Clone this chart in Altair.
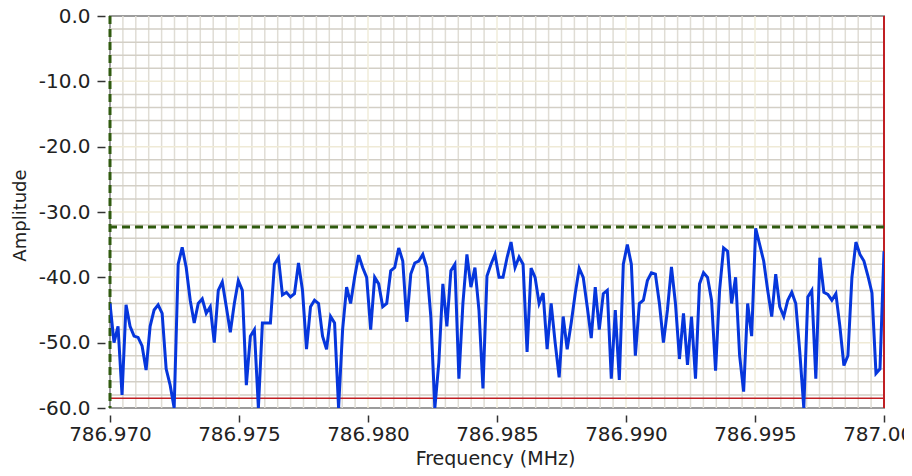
import altair as alt
import numpy as np
import pandas as pd

# ---- data ----
amplitude = [
    -44, -50, -47.5, -58, -44.2, -47.5, -49, -49.2, -50.5, -54.2,
    -47.5, -45, -44.2, -45.5, -54, -56.5, -60, -38, -35.4, -38.5,
    -43.5, -47, -44, -43.3, -45.5, -44.5, -50, -42, -40.7, -44.5,
    -48.4, -44, -40.5, -42, -56.5, -49, -48, -60, -47, -47,
    -47, -38, -37, -42.7, -42.3, -43, -42.5, -37.8, -42, -51,
    -44.5, -43.5, -44, -49, -51, -46, -47, -60, -48, -41.5,
    -44, -40, -36.6, -38.5, -40, -48, -40, -41, -44.5, -44,
    -39, -38.5, -35.5, -37.5, -46.8, -39.5, -37.8, -37.5, -36.5,
    -38.5, -46, -60, -53, -41, -47.5, -39, -38, -55.5, -44,
    -36.5, -41.5, -38.5, -45, -57, -39.8, -38, -36.5, -40, -40,
    -37, -34.6, -38.5, -36.9, -38, -51.4, -38.6, -40, -44, -42.4,
    -51, -44, -50, -55.3, -46, -51, -47, -42.5, -38.6,
    -40, -44.5, -49.3, -41.5, -48, -42.5, -42, -55.5, -45, -55.7,
    -38, -35, -38, -52, -44, -43.5, -40.5, -39.3, -39.5, -44,
    -50, -45, -38.4, -44, -52.5, -45.5, -53.4, -46, -55.5, -41,
    -39.3, -40, -43.5, -54.3, -42, -35.5, -36, -44,
    -40, -52, -57.5, -44, -49, -32.5, -35, -37.5, -42, -46,
    -39.5, -44.5, -46, -43.5, -42.3, -44, -51.4, -60, -43, -42,
    -55.5, -37, -42.3, -42.6, -43.5, -42.5, -47.5, -53.5, -52, -40,
    -34.6, -36.5, -37.5, -39.8, -42.4, -54.7, -54, -36,
]
freq_start = 786.970
freq_stop = 787.000
frequency = np.linspace(freq_start, freq_stop, len(amplitude))

x_ticks = [786.970, 786.975, 786.980, 786.985, 786.990, 786.995, 787.000]
y_ticks = [0, -10, -20, -30, -40, -50, -60]
x_major_grid = [786.975, 786.980, 786.985, 786.990, 786.995]
x_minor_grid = [v for v in np.round(np.arange(786.9705, 787.0, 0.0005), 4)
                if round((v - 786.970) / 0.005, 6) % 1 != 0]
y_major_grid = [-10, -20, -30, -40, -50]
y_minor_grid = [-2, -4, -6, -8, -12, -14, -16, -18, -22, -24, -26, -28,
                -32, -34, -36, -38, -42, -44, -46, -48, -52, -54, -56, -58]

cursor_green_amp = -32.3
cursor_green_freq = 786.970
cursor_red_amp = -58.5
cursor_red_freq = 787.000

trace = pd.DataFrame({"f": frequency, "a": amplitude})

FONT = "DejaVu Sans"
xscale = alt.Scale(domain=[freq_start, freq_stop], nice=False, zero=False)
yscale = alt.Scale(domain=[-60, 0], nice=False, zero=False)

xaxis = alt.Axis(values=x_ticks, title="Frequency (MHz)", grid=False,
                 labelExpr="format(datum.value, '.3f')",
                 domain=False, offset=7, tickSize=7, tickColor="#333333", tickWidth=1.5,
                 labelFont=FONT, labelFontSize=20, labelColor="#222222", labelPadding=2,
                 labelFlush=False, labelOverlap=False,
                 titleFont=FONT, titleFontSize=19, titleFontWeight="normal",
                 titleColor="#222222", titleX=385, titleY=43,
                 titleBaseline="middle", titleAlign="center")
yaxis = alt.Axis(values=y_ticks, title="Amplitude", grid=False,
                 labelExpr="replace(format(datum.value, '.1f'), '\u2212', '-')",
                 domain=False, offset=5, tickSize=8, tickColor="#333333", tickWidth=1.5,
                 labelFont=FONT, labelFontSize=20, labelColor="#222222", labelPadding=7,
                 titleFont=FONT, titleFontSize=18, titleFontWeight="normal",
                 titleColor="#222222", titleX=-85, titleY=199, titleAngle=270,
                 titleBaseline="middle", titleAlign="center")


def X(field):
    return alt.X(field, type="quantitative", scale=xscale, axis=xaxis)


def Y(field):
    return alt.Y(field, type="quantitative", scale=yscale, axis=yaxis)


h_minor = alt.Chart(pd.DataFrame({"y": y_minor_grid})).mark_rule(
    color="#d3cfc6", strokeWidth=1.5).encode(y=Y("y"))
h_major = alt.Chart(pd.DataFrame({"y": y_major_grid})).mark_rule(
    color="#efead6", strokeWidth=1.5).encode(y=Y("y"))
v_minor = alt.Chart(pd.DataFrame({"x": x_minor_grid})).mark_rule(
    color="#e0ddd5", strokeWidth=1.5).encode(x=X("x"))
v_major = alt.Chart(pd.DataFrame({"x": x_major_grid})).mark_rule(
    color="#f1edda", strokeWidth=1.5).encode(x=X("x"))

red_h = alt.Chart(pd.DataFrame({"y": [cursor_red_amp]})).mark_rule(
    color="#c02024", strokeWidth=1.5).encode(y=Y("y"))
red_v = alt.Chart(pd.DataFrame({"x": [cursor_red_freq]})).mark_rule(
    color="#c02024", strokeWidth=2).encode(x=X("x"))
green_h = alt.Chart(pd.DataFrame({"y": [cursor_green_amp]})).mark_rule(
    color="#2f5a0e", strokeWidth=3, strokeDash=[8, 5]).encode(y=Y("y"))
green_v = alt.Chart(pd.DataFrame({"x": [cursor_green_freq]})).mark_rule(
    color="#2f5a0e", strokeWidth=3, strokeDash=[8, 5]).encode(x=X("x"))

line = alt.Chart(trace).mark_line(color="#0636dc", strokeWidth=3, clip=True).encode(
    x=X("f"), y=Y("a"))

chart = alt.layer(
    v_minor, h_minor, v_major, h_major, red_h, red_v, green_h, green_v, line
).properties(
    width=774, height=392,
    autosize=alt.AutoSizeParams(type="none"),
    padding={"left": 102, "top": 8, "right": 20, "bottom": 60},
    background="white",
).configure_view(stroke="#9c9c9c", strokeWidth=2)

chart.save("out.html", embed_options={"renderer": "svg", "actions": False})
